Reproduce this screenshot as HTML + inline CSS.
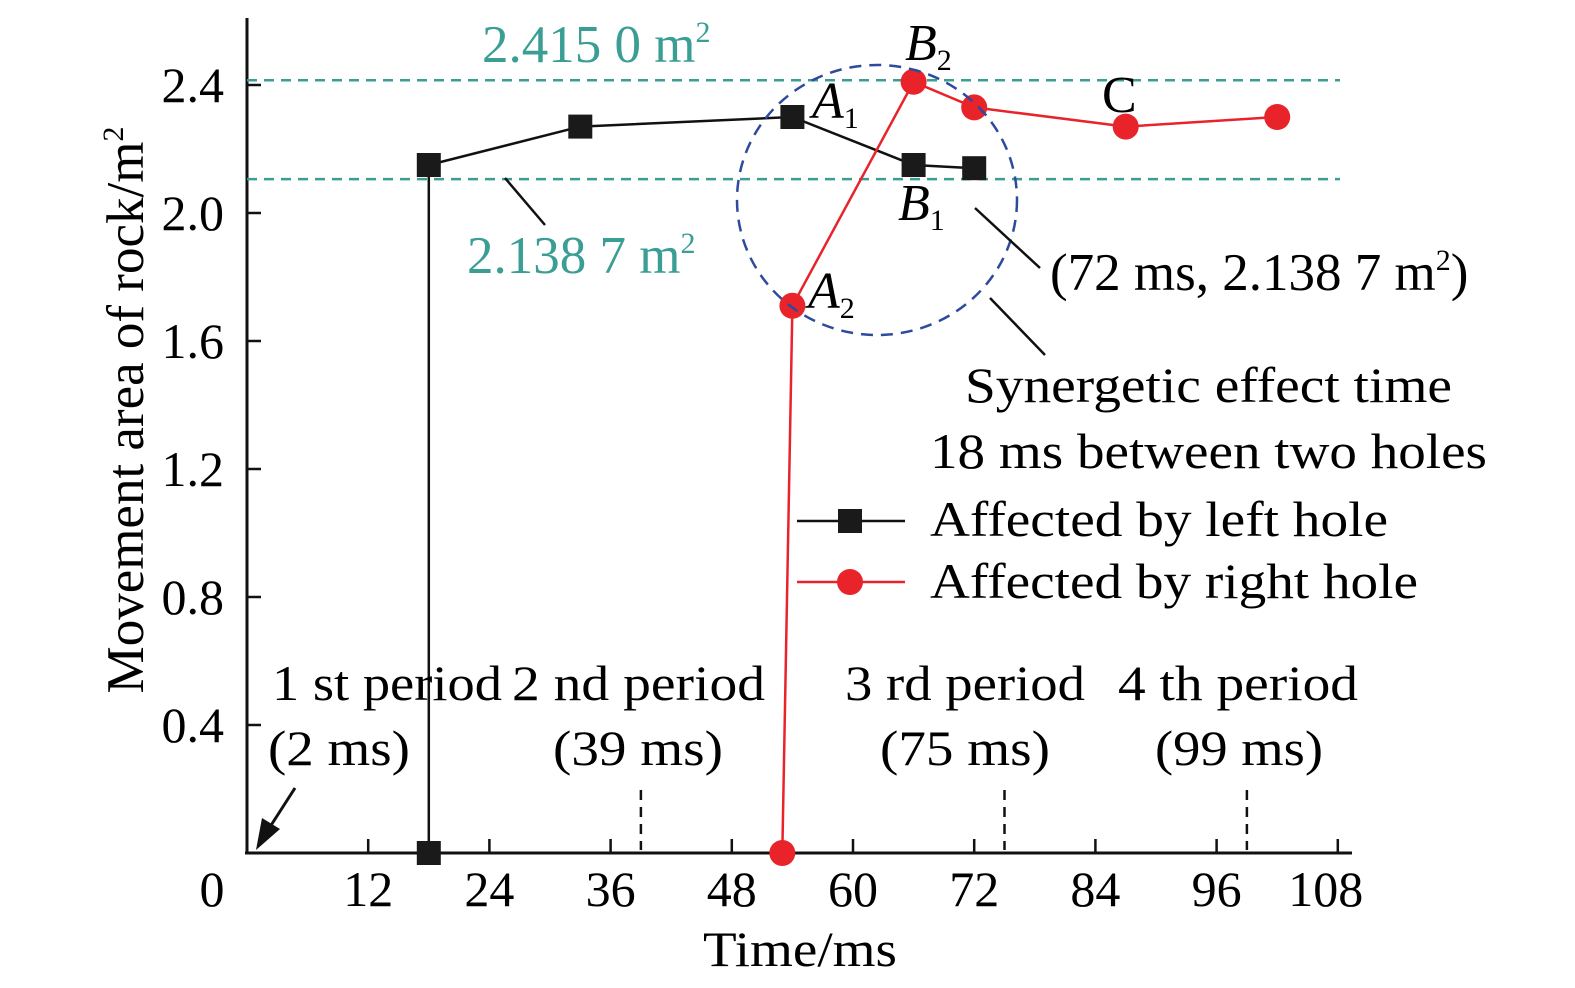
<!DOCTYPE html>
<html><head><meta charset="utf-8"><style>
body{margin:0;background:#fff;}
svg{display:block;font-family:"Liberation Serif",serif;}
</style></head><body>
<svg id="chart" width="1575" height="988" viewBox="0 0 1575 988">
<g id="axes"></g>
<g id="marks"></g>
<g font-size="50">
<ellipse cx="877" cy="200" rx="140" ry="135" fill="none" stroke="#2d4a9e" stroke-width="2.5" stroke-dasharray="12,8"/>
<text x="482" y="62" fill="#3a9e94" font-size="53">2.415 0 m<tspan font-size="30" dy="-20">2</tspan></text>
<text x="467" y="273" fill="#3a9e94" font-size="53">2.138 7 m<tspan font-size="30" dy="-20">2</tspan></text>
<line x1="505" y1="178" x2="545" y2="225" stroke="#111" stroke-width="2.5"/>
<text x="905" y="60" font-style="italic" font-size="52">B<tspan font-size="30" dy="10" font-style="normal">2</tspan></text>
<text x="812" y="118" font-style="italic" font-size="52">A<tspan font-size="30" dy="10" font-style="normal">1</tspan></text>
<text x="898" y="220" font-style="italic" font-size="52">B<tspan font-size="30" dy="10" font-style="normal">1</tspan></text>
<text x="808" y="308" font-style="italic" font-size="52">A<tspan font-size="30" dy="10" font-style="normal">2</tspan></text>
<text x="1102" y="112" font-size="52">C</text>
<line x1="975" y1="208" x2="1040" y2="268" stroke="#111" stroke-width="2.5"/>
<text x="1050" y="290" font-size="53">(72 ms, 2.138 7 m<tspan font-size="30" dy="-20">2</tspan><tspan dy="20">)</tspan></text>
<line x1="990" y1="298" x2="1045" y2="355" stroke="#111" stroke-width="2.5"/>
<text x="965" y="402" textLength="487" lengthAdjust="spacingAndGlyphs">Synergetic effect time</text>
<text x="930" y="468" textLength="557" lengthAdjust="spacingAndGlyphs">18 ms between two holes</text>
<text x="272" y="700" textLength="230" lengthAdjust="spacingAndGlyphs">1 st period</text>
<text x="268" y="765" textLength="142" lengthAdjust="spacingAndGlyphs">(2 ms)</text>
<text x="512" y="700" textLength="253" lengthAdjust="spacingAndGlyphs">2 nd period</text>
<text x="553" y="765" textLength="170" lengthAdjust="spacingAndGlyphs">(39 ms)</text>
<text x="845" y="700" textLength="240" lengthAdjust="spacingAndGlyphs">3 rd period</text>
<text x="880" y="765" textLength="170" lengthAdjust="spacingAndGlyphs">(75 ms)</text>
<text x="1118" y="700" textLength="240" lengthAdjust="spacingAndGlyphs">4 th period</text>
<text x="1155" y="765" textLength="168" lengthAdjust="spacingAndGlyphs">(99 ms)</text>
<line x1="295" y1="788" x2="268" y2="830" stroke="#111" stroke-width="3"/>
<polygon points="256,850 262,818 280,829" fill="#111"/>
<g>
<line x1="797" y1="521" x2="905" y2="521" stroke="#111" stroke-width="2.5"/>
<rect x="838" y="509" width="24" height="24" fill="#1a1a1a"/>
<text x="930" y="536" textLength="458" lengthAdjust="spacingAndGlyphs">Affected by left hole</text>
<line x1="797" y1="582" x2="905" y2="582" stroke="#e8232a" stroke-width="2.5"/>
<circle cx="850" cy="582" r="13" fill="#e8232a"/>
<text x="930" y="598" textLength="488" lengthAdjust="spacingAndGlyphs">Affected by right hole</text>
</g>
</g>
</svg>
<script>
const xTicks=[0,12,24,36,48,60,72,84,96,108];
const yTicks=[0.4,0.8,1.2,1.6,2.0,2.4];
const yTickLabels=["0.4","0.8","1.2","1.6","2.0","2.4"];
const leftT=[18,18,33,54,66,72];
const leftV=[0,2.15,2.27,2.30,2.15,2.14];
const rightT=[53,54,66,72,87,102];
const rightV=[0,1.71,2.41,2.33,2.27,2.30];
const refLines=[2.415,2.106];
const periodTimes=[39,75,99];
const NS="http://www.w3.org/2000/svg";
const X=t=>247+t*10.1, Y=v=>853-v*320;
function mk(tag,attrs,parent){const e=document.createElementNS(NS,tag);for(const k in attrs)e.setAttribute(k,attrs[k]);parent.appendChild(e);return e;}
const ax=document.getElementById('axes'),mg=document.getElementById('marks');
let e=mk('line',{x1:247,y1:18,x2:247,y2:853,stroke:'#111','stroke-width':3},ax);


e=mk('line',{x1:245,y1:853,x2:1352,y2:853,stroke:'#111','stroke-width':3},ax);


xTicks.forEach((t,i)=>{
 if(t>0){mk('line',{x1:X(t),y1:853,x2:X(t),y2:839,stroke:'#111','stroke-width':2.5},ax);}
 const tx=mk('text',{x:i==0?212:X(t)-(t==108?12:0),y:906,'text-anchor':'middle','font-size':50},ax);tx.textContent=t;
 
 
});
yTicks.forEach((v,i)=>{
 mk('line',{x1:247,y1:Y(v),x2:261,y2:Y(v),stroke:'#111','stroke-width':2.5},ax);
 const tx=mk('text',{x:224,y:Y(v)+17,'text-anchor':'end','font-size':50},ax);tx.textContent=yTickLabels[i];
 
 
});
let t=mk('text',{x:703,y:966,'font-size':50,textLength:194,lengthAdjust:'spacingAndGlyphs'},ax);t.textContent='Time/ms';


t=mk('text',{transform:'translate(143,410) rotate(-90)','text-anchor':'middle','font-size':53},ax);
t.innerHTML='Movement area of rock/m<tspan font-size="30" dy="-20">2</tspan>';


refLines.forEach(v=>{e=mk('line',{x1:247,y1:Y(v),x2:1340,y2:Y(v),stroke:'#3a9e94','stroke-width':2.5,'stroke-dasharray':'10,7'},mg);
 
 });
periodTimes.forEach(p=>{e=mk('line',{x1:X(p),y1:790,x2:X(p),y2:850,stroke:'#111','stroke-width':2.5,'stroke-dasharray':'10,7'},mg);
 
 });
e=mk('polyline',{points:leftT.map((q,i)=>X(q)+','+Y(leftV[i])).join(' '),fill:'none',stroke:'#111','stroke-width':2.5},mg);


e=mk('polyline',{points:rightT.map((q,i)=>X(q)+','+Y(rightV[i])).join(' '),fill:'none',stroke:'#e8232a','stroke-width':2.5},mg);


leftT.forEach((q,i)=>{e=mk('rect',{x:X(q)-12,y:Y(leftV[i])-12,width:24,height:24,fill:'#1a1a1a'},mg);
 
 });
rightT.forEach((q,i)=>{e=mk('circle',{cx:X(q),cy:Y(rightV[i]),r:13,fill:'#e8232a'},mg);
 
 });
</script>
</body></html>
